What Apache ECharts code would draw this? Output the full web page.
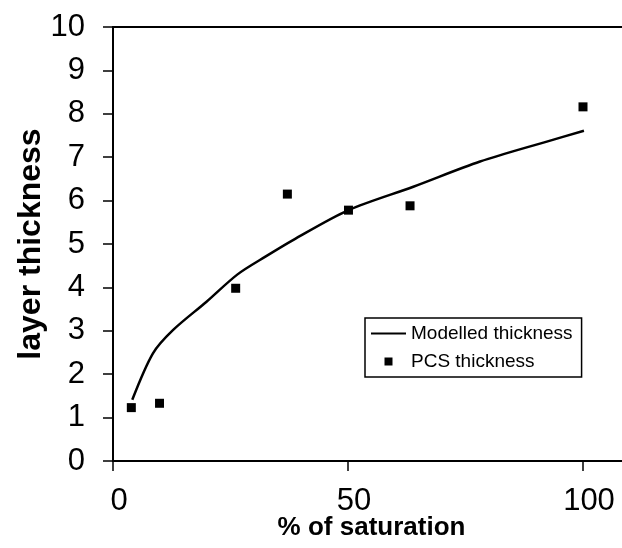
<!DOCTYPE html>
<html>
<head>
<meta charset="utf-8">
<script src="https://cdn.jsdelivr.net/npm/echarts@6/dist/echarts.min.js"></script>
<style>html,body{margin:0;padding:0;background:#fff;}#c{width:622px;height:548px;}</style>
</head>
<body>
<div id="c"></div>
<script>
var modelX = [4.1, 8.5, 12.8, 19.9, 26.5, 32.6, 38.3, 50.1, 63.9, 78.1, 92.3, 100.2];
var modelY = [1.41, 2.48, 3.02, 3.67, 4.30, 4.72, 5.09, 5.78, 6.32, 6.90, 7.36, 7.61];
var pcsX = [3.9, 9.9, 26.1, 37.1, 50.1, 63.2, 100];
var pcsY = [1.23, 1.33, 3.98, 6.15, 5.78, 5.88, 8.16];
var xTicks = [0, 50, 100];
var yTicks = [0, 1, 2, 3, 4, 5, 6, 7, 8, 9, 10];

var font = '"Liberation Sans", Arial, sans-serif';
var chart = echarts.init(document.getElementById('c'));
chart.setOption({
  backgroundColor: '#fff',
  animation: false,
  grid: { left: 113, top: 27, width: 517, height: 434, show: true, borderColor: '#000', borderWidth: 2,
    containLabel: false, outerBoundsMode: 'none' },
  legend: {
    orient: 'vertical', left: 365, top: 318,
    borderColor: '#000', borderWidth: 1.5, backgroundColor: '#fff',
    padding: [6, 9, 6, 6], itemGap: 9, itemWidth: 35, itemHeight: 8,
    textStyle: { fontFamily: font, fontSize: 19, color: '#000' },
    data: [
      { name: 'Modelled thickness', icon: 'path://M0,0h35v2h-35z', itemStyle: { color: '#000' } },
      { name: 'PCS thickness', icon: 'path://M0,0h10v10h-10z', itemStyle: { color: '#000' } }
    ]
  },
  xAxis: {
    type: 'value', min: 0, max: 110, interval: 50,
    name: '% of saturation', nameLocation: 'middle', nameGap: 54, nameMoveOverlap: false,
    nameTextStyle: { fontFamily: font, fontSize: 26, fontWeight: 'bold', color: '#000' },
    axisLine: { show: true, lineStyle: { color: '#000', width: 2 } },
    axisTick: { show: true, inside: false, length: 10, lineStyle: { color: '#000', width: 1.5 } },
    axisLabel: { show: true, margin: 25, fontFamily: font, fontSize: 31, color: '#000', showMaxLabel: false,
      padding: [0, 0, 0, 12],
      formatter: function (v) { return xTicks.indexOf(v) >= 0 ? String(v) : ''; } },
    splitLine: { show: false }
  },
  yAxis: {
    type: 'value', min: 0, max: 10, interval: 1,
    name: 'layer thickness', nameLocation: 'middle', nameGap: 66, nameMoveOverlap: false,
    nameTextStyle: { fontFamily: font, fontSize: 32, fontWeight: 'bold', color: '#000' },
    axisLine: { show: true, lineStyle: { color: '#000', width: 2 } },
    axisTick: { show: true, inside: false, length: 10, lineStyle: { color: '#000', width: 1.5 } },
    axisLabel: { show: true, margin: 28, fontFamily: font, fontSize: 31, color: '#000',
      formatter: function (v) { return yTicks.indexOf(v) >= 0 ? String(v) : ''; } },
    splitLine: { show: false }
  },
  series: [
    {
      name: 'Modelled thickness', type: 'line', smooth: 0.3, symbol: 'none',
      lineStyle: { color: '#000', width: 2.5 }, itemStyle: { color: '#000' },
      data: modelX.map(function (x, i) { return [x, modelY[i]]; })
    },
    {
      name: 'PCS thickness', type: 'scatter', symbol: 'rect', symbolSize: 9,
      itemStyle: { color: '#000', opacity: 1 },
      data: pcsX.map(function (x, i) { return [x, pcsY[i]]; })
    }
  ]
});
</script>
</body>
</html>
